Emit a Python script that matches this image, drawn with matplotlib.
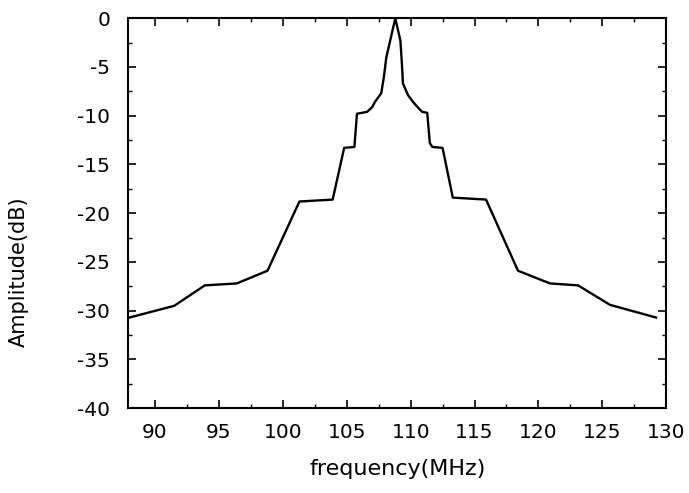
import matplotlib
matplotlib.use("Agg")
import matplotlib.pyplot as plt
from matplotlib.ticker import MultipleLocator

freq = [88.0, 91.5, 93.9, 96.4, 98.8, 101.3, 103.9, 104.8, 105.6, 105.8, 106.6,
        107.0, 107.2, 107.7, 107.9, 108.1, 108.4, 108.8,
        109.2, 109.3, 109.4, 109.8, 110.2, 110.6, 110.9, 111.3, 111.5, 111.7,
        112.5, 113.3, 115.9, 118.4, 120.9, 123.1, 125.6, 129.2]
amp = [-30.7, -29.5, -27.4, -27.2, -25.9, -18.8, -18.6, -13.3, -13.2, -9.8, -9.6,
       -9.1, -8.6, -7.7, -6.1, -4.0, -2.3, 0.0,
       -2.3, -4.3, -6.7, -7.9, -8.6, -9.2, -9.6, -9.7, -12.8, -13.2,
       -13.3, -18.4, -18.6, -25.9, -27.2, -27.4, -29.4, -30.7]

xticks = [90, 95, 100, 105, 110, 115, 120, 125, 130]
yticks = [0, -5, -10, -15, -20, -25, -30, -35, -40]
ytick_labels = ["0", "-5", "-10", "-15", "-20", "-25", "-30", "-35", "-40"]

plt.rcParams['font.family'] = ['DejaVu Sans']
fig = plt.figure(figsize=(6.89, 4.93), dpi=100)
ax = fig.add_axes([0.186, 0.172, 0.781, 0.791])
ax.plot(freq, amp, color='black', lw=1.7)
ax.set_xlim(87.9, 130)
ax.set_ylim(-40, 0)
ax.set_xticks(xticks)
ax.set_yticks(yticks)
ax.set_yticklabels(ytick_labels)
ax.xaxis.set_minor_locator(MultipleLocator(2.5))
ax.yaxis.set_minor_locator(MultipleLocator(2.5))
ax.tick_params(which='both', direction='in', top=True, right=True, labelsize=14.5)
ax.tick_params(axis='x', pad=11)
ax.tick_params(axis='y', pad=13)
ax.tick_params(which='major', length=6, width=1.2)
ax.tick_params(which='minor', length=3, width=1.0)
for s in ax.spines.values():
    s.set_linewidth(1.5)
ax.set_xlabel("frequency(MHz)", fontsize=16, labelpad=12)
ax.set_ylabel("Amplitude(dB)", fontsize=15, va='center')
ax.yaxis.set_label_coords(-0.204, 0.35)
fig.savefig("out.png", dpi=100)
